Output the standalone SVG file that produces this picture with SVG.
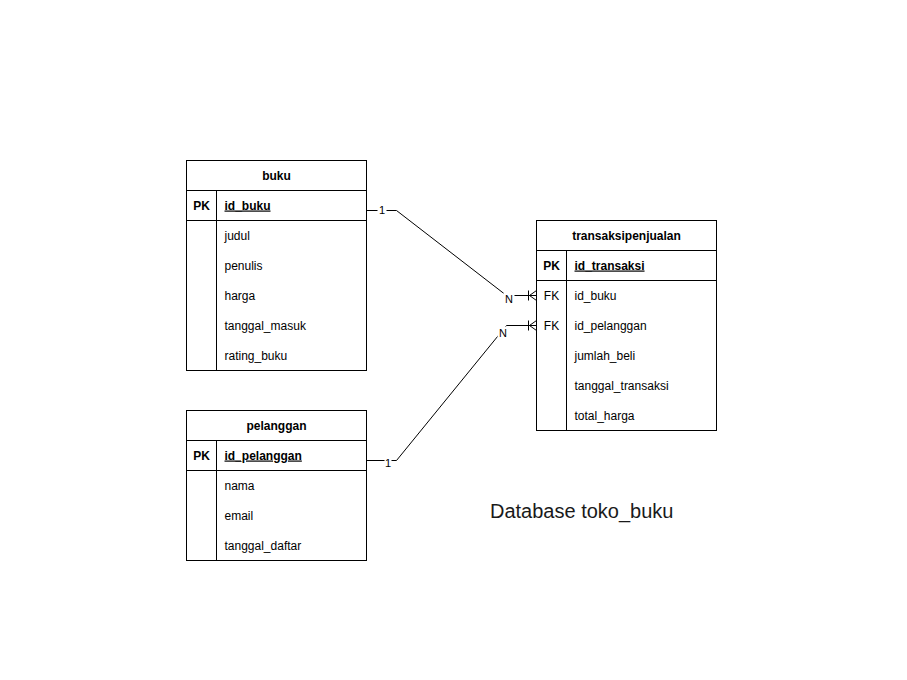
<svg xmlns="http://www.w3.org/2000/svg" width="907" height="680" viewBox="0 0 907 680">
<defs>
<style>
.box{fill:#fff;stroke:#000;stroke-width:1}
.ln{fill:none;stroke:#000;stroke-width:1}
text{font-family:"Liberation Sans",Arial,Helvetica,sans-serif;font-size:12px;fill:#000}
.t{font-weight:bold;text-anchor:middle}
.k{font-weight:bold;text-anchor:middle}
.pk{font-weight:bold;text-decoration:underline}
.lbl{font-size:11px;text-anchor:middle}
.cap{font-size:20px;fill:#1a1a1a}
</style>
</defs>
<rect width="907" height="680" fill="#fff"/>
<g transform="translate(0.5,0.5)">
<g id="buku">
<rect class="box" x="186" y="160" width="180" height="210"/>
<line class="ln" x1="186" y1="190" x2="366" y2="190"/>
<line class="ln" x1="186" y1="220" x2="366" y2="220"/>
<line class="ln" x1="216" y1="190" x2="216" y2="370"/>
<text class="t" x="276" y="179">buku</text>
<text class="k" x="201" y="209">PK</text>
<text class="pk" x="224" y="209">id_buku</text>
<text x="224" y="239">judul</text>
<text x="224" y="269">penulis</text>
<text x="224" y="299">harga</text>
<text x="224" y="329">tanggal_masuk</text>
<text x="224" y="359">rating_buku</text>
</g>
<g id="pelanggan">
<rect class="box" x="186" y="410" width="180" height="150"/>
<line class="ln" x1="186" y1="440" x2="366" y2="440"/>
<line class="ln" x1="186" y1="470" x2="366" y2="470"/>
<line class="ln" x1="216" y1="440" x2="216" y2="560"/>
<text class="t" x="276" y="429">pelanggan</text>
<text class="k" x="201" y="459">PK</text>
<text class="pk" x="224" y="459">id_pelanggan</text>
<text x="224" y="489">nama</text>
<text x="224" y="519">email</text>
<text x="224" y="549">tanggal_daftar</text>
</g>
<g id="transaksipenjualan">
<rect class="box" x="536" y="220" width="180" height="210"/>
<line class="ln" x1="536" y1="250" x2="716" y2="250"/>
<line class="ln" x1="536" y1="280" x2="716" y2="280"/>
<line class="ln" x1="566" y1="250" x2="566" y2="430"/>
<text class="t" x="626" y="239">transaksipenjualan</text>
<text class="k" x="551" y="269">PK</text>
<text class="pk" x="574" y="269">id_transaksi</text>
<text x="551" y="299" text-anchor="middle">FK</text>
<text x="574" y="299">id_buku</text>
<text x="551" y="329" text-anchor="middle">FK</text>
<text x="574" y="329">id_pelanggan</text>
<text x="574" y="359">jumlah_beli</text>
<text x="574" y="389">tanggal_transaksi</text>
<text x="574" y="419">total_harga</text>
</g>
<g id="connectors">
<path class="ln" d="M366,210 L396,210 L506,295 L536,295"/>
<path class="ln" d="M528,290 L528,300 M529,295 L536,290 M529,295 L536,300"/>
<rect x="377" y="203" width="9" height="12" fill="#fff"/>
<text class="lbl" x="381.5" y="213">1</text>
<rect x="503" y="292" width="11" height="11" fill="#fff"/>
<text class="lbl" x="508.5" y="302">N</text>
<path class="ln" d="M366,460 L396,460 L506,325 L536,325"/>
<path class="ln" d="M528,320 L528,330 M529,325 L536,320 M529,325 L536,330"/>
<rect x="384" y="456" width="7" height="11" fill="#fff"/>
<text class="lbl" x="387.5" y="466">1</text>
<rect x="497" y="326" width="11" height="11" fill="#fff"/>
<text class="lbl" x="502.5" y="336">N</text>
</g>
</g>
<text id="caption" class="cap" x="490" y="518">Database toko_buku</text>
</svg>
